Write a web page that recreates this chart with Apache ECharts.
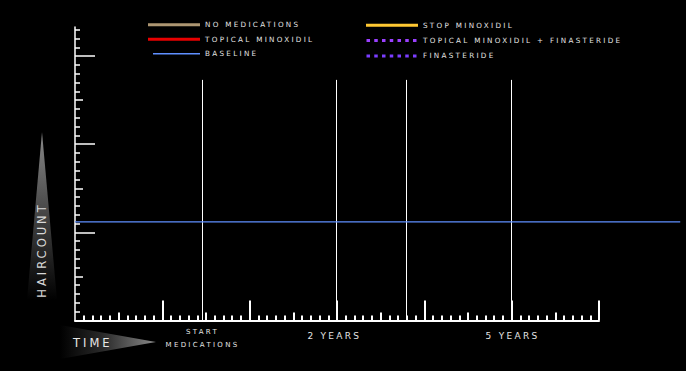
<!DOCTYPE html>
<html>
<head>
<meta charset="utf-8">
<script src="https://cdn.jsdelivr.net/npm/echarts@6/dist/echarts.min.js"></script>
<style>
  html, body { margin: 0; padding: 0; background: #000; }
  #chart { width: 686px; height: 371px; }
  text { letter-spacing: 2.3px; }
  text[style*="11.5px"] { letter-spacing: 3px; }
</style>
</head>
<body>
<div id="chart"></div>
<script>
// ---- data ----
const xMajorTicks = [10, 20, 30, 40, 50, 60];
const xMediumTicks = [5, 15, 25, 35, 45, 55];
const xMinorTicks = [1, 2, 3, 4, 6, 7, 8, 9, 11, 12, 13, 14, 16, 17, 18, 19, 21, 22, 23, 24, 26, 27, 28, 29,
  31, 32, 33, 34, 36, 37, 38, 39, 41, 42, 43, 44, 46, 47, 48, 49, 51, 52, 53, 54, 56, 57, 58, 59];
const yMajorTicks = [10, 20, 30];
const yMediumTicks = [5, 15, 25];
const yMinorTicks = [1, 2, 3, 4, 6, 7, 8, 9, 11, 12, 13, 14, 16, 17, 18, 19, 21, 22, 23, 24, 26, 27, 28, 29, 31, 32, 33];

const startLabelValues = [14.6];
const startLabelTexts = ['START\nMEDICATIONS'];
const yearLabelValues = [29.7, 50.1];
const yearLabelTexts = ['2 YEARS', '5 YEARS'];

const baselineX = [0, 69.3];
const baselineY = [11.2, 11.2];

const eventX = [14.6, 29.9, 37.9, 49.9];
const eventTop = [27.3, 27.3, 27.3, 27.3];

const legendLeftNames = ['NO MEDICATIONS', 'TOPICAL MINOXIDIL', 'BASELINE'];
const legendRightNames = ['STOP MINOXIDIL', 'TOPICAL MINOXIDIL + FINASTERIDE', 'FINASTERIDE'];

const xMax = 60;
const xMaxWide = 69.3;
const yMax = 33.3;

// ---- styling helpers ----
const seriesColors = {
  'NO MEDICATIONS': '#ad9672',
  'TOPICAL MINOXIDIL': '#e80000',
  'BASELINE': '#5f8fff',
  'STOP MINOXIDIL': '#ffc832',
  'TOPICAL MINOXIDIL + FINASTERIDE': '#9b40ff',
  'FINASTERIDE': '#7b3dff'
};
const corner = 'M0,0h0.01v0.01h-0.01z M51.99,9.99h0.01v0.01h-0.01z ';
const iconSolid = 'path://' + corner + 'M0,3.5h52v3h-52z';
const iconThin = 'path://' + corner + 'M5,4.4h47v1.3h-47z';
let dots = '';
for (let i = 0; i < 7; i++) { dots += 'M' + (0.5 + i * 7.75) + ',3.5h3.5v3h-3.5z '; }
const iconDots = 'path://' + corner + dots;
const legendIcons = {
  'NO MEDICATIONS': iconSolid,
  'TOPICAL MINOXIDIL': iconSolid,
  'BASELINE': iconThin,
  'STOP MINOXIDIL': iconSolid,
  'TOPICAL MINOXIDIL + FINASTERIDE': iconDots,
  'FINASTERIDE': iconDots
};

const textColor = '#e4e4e4';
const font = 'DejaVu Sans';
const unitX = (686 - 75 - 87) / xMax;
const gridPos = { left: 75, right: 87, top: 27, bottom: 50.5 };
const gridWide = { left: 75, right: 686 - 75 - unitX * xMaxWide, top: 27, bottom: 50.5 };

function xAxisDef(gridIndex, max, ticks, len, showLine, labelVals, labelTxts, labelStyle) {
  return {
    type: 'value', gridIndex: gridIndex, min: 0, max: max, position: 'bottom',
    axisLine: { show: showLine, onZero: false, lineStyle: { color: '#fff', width: 2 } },
    axisTick: ticks ? { show: true, inside: true, length: len, customValues: ticks, lineStyle: { color: '#fff', width: 2 } } : { show: false },
    axisLabel: labelVals ? Object.assign({
      show: true, customValues: labelVals, color: textColor, fontFamily: font,
      formatter: function (v) { const i = labelVals.indexOf(v); return i >= 0 ? labelTxts[i] : ''; }
    }, labelStyle) : { show: false },
    splitLine: { show: false }
  };
}
function yAxisDef(gridIndex, ticks, len, showLine) {
  return {
    type: 'value', gridIndex: gridIndex, min: 0, max: yMax, position: 'left',
    axisLine: { show: showLine, onZero: false, lineStyle: { color: '#fff', width: 1.5 } },
    axisTick: ticks ? { show: true, inside: true, length: len, customValues: ticks, lineStyle: { color: '#fff', width: 1.5 } } : { show: false },
    axisLabel: { show: false },
    splitLine: { show: false }
  };
}

const placeholderSeries = Object.keys(seriesColors).filter(n => n !== 'BASELINE').map(n => ({
  name: n, type: 'line', xAxisIndex: 0, yAxisIndex: 0, data: [], symbol: 'none',
  color: seriesColors[n], lineStyle: { color: seriesColors[n], width: 3 }
}));

function legendDef(names, left, top, gap) {
  return {
    orient: 'vertical', left: left, top: top, padding: 0, itemGap: gap,
    itemWidth: 52, itemHeight: 10, selectedMode: false,
    itemStyle: { borderWidth: 0 },
    textStyle: { color: textColor, fontSize: 7.2, fontFamily: font, padding: [0, 0, 0, 0] },
    data: names.map(n => ({ name: n, icon: legendIcons[n] }))
  };
}

const chart = echarts.init(document.getElementById('chart'), null, { renderer: 'svg' });
chart.setOption({
  backgroundColor: '#000',
  animation: false,
  grid: [Object.assign({}, gridPos), Object.assign({}, gridPos), Object.assign({}, gridPos), Object.assign({}, gridWide)],
  xAxis: [
    xAxisDef(0, xMax, xMajorTicks, 20, true, startLabelValues, startLabelTexts, { fontSize: 7, lineHeight: 13, margin: 5 }),
    xAxisDef(1, xMax, xMediumTicks, 8, false, yearLabelValues, yearLabelTexts, { fontSize: 9, lineHeight: 11, margin: 9.5 }),
    xAxisDef(2, xMax, xMinorTicks, 5, false, null, null, null),
    xAxisDef(3, xMaxWide, null, 0, false, null, null, null)
  ],
  yAxis: [
    yAxisDef(0, yMajorTicks, 20, true),
    yAxisDef(1, yMediumTicks, 8, false),
    yAxisDef(2, yMinorTicks, 5, false),
    yAxisDef(3, null, 0, false)
  ],
  legend: [
    legendDef(legendLeftNames, 148, 19.7, 4.5),
    legendDef(legendRightNames, 366, 20.3, 5.3)
  ],
  graphic: [
    {
      type: 'polygon', z: 1,
      shape: { points: [[42, 132], [57, 300], [27, 300]] },
      style: { fill: new echarts.graphic.LinearGradient(0, 0, 0, 1, [
        { offset: 0, color: '#8a8a8a' }, { offset: 0.55, color: '#3c3c3c' }, { offset: 1, color: '#000' }]) }
    },
    {
      type: 'text', z: 2, x: 42, y: 250, rotation: Math.PI / 2,
      style: { text: 'HAIRCOUNT', fill: '#d8d8d8', fontSize: 11.5, fontFamily: font, align: 'center', verticalAlign: 'middle' }
    },
    {
      type: 'polygon', z: 1,
      shape: { points: [[60, 325], [156, 342], [60, 359]] },
      style: { fill: new echarts.graphic.LinearGradient(0, 0, 1, 0, [
        { offset: 0, color: '#000' }, { offset: 0.45, color: '#2a2a2a' }, { offset: 1, color: '#8a8a8a' }]) }
    },
    {
      type: 'text', z: 2, x: 73, y: 342.5,
      style: { text: 'TIME', fill: '#e8e8e8', fontSize: 11.5, fontFamily: font, align: 'left', verticalAlign: 'middle' }
    }
  ],
  series: placeholderSeries.concat([
    {
      name: 'BASELINE', type: 'line', xAxisIndex: 3, yAxisIndex: 3, symbol: 'none',
      color: seriesColors['BASELINE'], lineStyle: { color: seriesColors['BASELINE'], width: 1.3 },
      data: baselineX.map((x, i) => [x, baselineY[i]])
    },
    {
      name: 'events', type: 'lines', coordinateSystem: 'cartesian2d', xAxisIndex: 0, yAxisIndex: 0,
      lineStyle: { color: '#fff', width: 1, opacity: 1 },
      data: eventX.map((x, i) => ({ coords: [[x, 0], [x, eventTop[i]]] }))
    }
  ])
});
</script>
</body>
</html>
